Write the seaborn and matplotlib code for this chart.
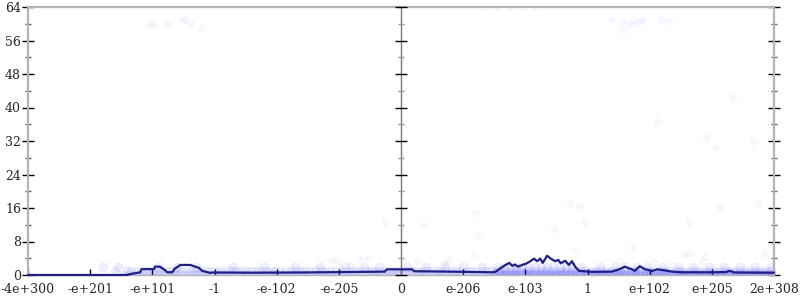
import numpy as np
import pandas as pd
import seaborn as sns
import matplotlib.pyplot as plt
from matplotlib.ticker import MultipleLocator

# ---------------- data ----------------
tick_pos = [-6, -5, -4, -3, -2, -1, 0, 1, 2, 3, 4, 5, 6]
tick_labels = ["-4e+300", "-e+201", "-e+101", "-1", "-e-102", "-e-205", "0",
               "e-206", "e-103", "1", "e+102", "e+205", "2e+308"]

# dense band of errors (x positions at each error level)
band_y0_x = [-4.45, -4.38, -4.3, -4.21, -4.13, -4.06, -3.97, -3.9, -3.82, -3.73, -3.66, -3.58,
             -3.5, -3.41, -3.33, -3.26, -3.17, -3.1, -3.02, -2.93, -2.86, -2.78, -2.7, -2.61,
             -2.53, -2.46, -2.37, -2.3, -2.22, -2.13, -2.06, -1.98, -1.9, -1.81, -1.73, -1.66,
             -1.57, -1.5, -1.42, -1.33, -1.26, -1.18, -1.1, -1.01, -0.93, -0.86, -0.77, -0.7,
             -0.62, -0.53, -0.46, -0.38, -0.3, -0.21, -0.13, -0.06,
             0.05, 0.13, 0.21, 0.3, 0.37, 0.45, 0.54, 0.61, 0.69, 0.78, 0.85, 0.93, 1.02, 1.09,
             1.17, 1.26, 1.33, 1.41, 1.5, 1.57, 1.65, 1.74, 1.81, 1.89, 1.98, 2.05, 2.13, 2.22,
             2.29, 2.37, 2.46, 2.53, 2.61, 2.7, 2.77, 2.85, 2.94, 3.01, 3.09, 3.18, 3.25, 3.33,
             3.42, 3.49, 3.57, 3.66, 3.73, 3.81, 3.9, 3.97, 4.05, 4.14, 4.21, 4.29, 4.38, 4.45,
             4.53, 4.62, 4.69, 4.77, 4.86, 4.93, 5.01, 5.1, 5.17, 5.25, 5.34, 5.41, 5.49, 5.58,
             5.65, 5.73, 5.82, 5.89, 5.97]
band_y1_x = [-4.6, -4.41, -4.34, -4.25, -4.17, -4.09, -4.01, -3.93, -3.86, -3.77, -3.69, -3.62,
             -3.54, -3.45, -3.37, -3.29, -3.21, -3.14, -3.06, -2.97, -2.89, -2.82, -2.74, -2.65,
             -2.57, -2.49, -2.41, -2.34, -2.26, -2.17, -2.09, -2.02, -1.94, -1.85, -1.77, -1.69,
             -1.61, -1.54, -1.46, -1.37, -1.29, -1.22, -1.14, -1.05, -0.97, -0.89, -0.81, -0.74,
             -0.66, -0.57, -0.49, -0.42, -0.34, -0.25, -0.17, -0.1, -0.02,
             0.09, 0.17, 0.25, 0.34, 0.41, 0.49, 0.58, 0.65, 0.73, 0.82, 0.89, 0.97, 1.06, 1.13,
             1.21, 1.3, 1.37, 1.45, 1.54, 1.61, 1.69, 1.78, 1.85, 1.93, 2.02, 2.09, 2.17, 2.26,
             2.33, 2.41, 2.5, 2.57, 2.65, 2.74, 2.81, 2.89, 2.98, 3.05, 3.13, 3.22, 3.29, 3.37,
             3.46, 3.53, 3.61, 3.7, 3.77, 3.85, 3.94, 4.01, 4.09, 4.18, 4.25, 4.33, 4.42, 4.49,
             4.57, 4.66, 4.73, 4.81, 4.9, 4.97, 5.05, 5.14, 5.21, 5.29, 5.38, 5.45, 5.53, 5.62,
             5.69, 5.77, 5.86, 5.93]
band_y2_x = [-4.8, -4.55, -3.9, -3.6, -3.3, -2.7, -2.2, -1.7, -1.3, -0.9, -0.6, -0.35, 0.1, 0.4,
             0.7, 1.0, 1.3, 1.55, 1.65, 1.75, 1.85, 1.95, 2.05, 2.15, 2.25, 2.35, 2.45, 2.55,
             2.65, 2.75, 2.9, 3.2, 3.45, 3.6, 3.8, 3.95, 4.2, 4.45, 4.7, 4.95, 5.2, 5.45, 5.7, 5.95]
band_dense_x = [1.52, 1.6, 1.68, 1.76, 1.84, 1.92, 2.0, 2.08, 2.16, 2.24, 2.32, 2.4, 2.48, 2.56,
                2.64, 2.72, 2.8, 2.88, 2.96, 3.04, 3.12, 3.2, 3.28, 3.36, 3.44, 3.52, 3.6, 3.68,
                3.76, 3.84, 3.92, 4.0, 4.08, 4.16, 4.24, 4.32, 4.4, 4.48, 4.56, 4.64, 4.72, 4.8,
                4.88, 4.96, 5.04, 5.12, 5.2, 5.28, 5.36, 5.44, 5.52, 5.6, 5.68, 5.76, 5.84, 5.92, 6.0]

# sparse outliers
outlier_x = [-4.05, -3.97, -3.76, -3.52, -3.47, -3.38, -3.22,
             3.38, 3.57, 3.65, 3.73, 3.75, 3.84, 3.88, 4.18, 4.31, 3.57,
             1.35, 1.55, 1.75, 1.95, 2.15,
             5.34, 4.12, 4.91, 5.05, 5.66,
             1.21, 0.35, 1.25, 1.17, 0.77, 0.26, 0.69, 2.46, 2.72, 2.86, 2.96, 2.8,
             5.13, 5.76, 4.63, 3.73, 5.85, 4.63, 4.55, 4.07, 3.52, 4.84, 4.89, 4.31,
             -0.26, -1.11, -1.01, -0.68, -0.53, -0.82]
outlier_y = [60, 60, 60, 61, 61, 60, 59,
             61, 60.6, 60, 60, 61, 60.4, 61, 61, 60.6, 58.5,
             64, 64, 64, 64, 64,
             42.5, 36.5, 33, 30.5, 32,
             14.8, 12, 9.5, 4.8, 3.6, 3.4, 2.9, 11, 17, 16.5, 12.7, 6,
             16.2, 17, 12.7, 6.7, 5.3, 5.3, 4.8, 3.1, 3.4, 3.1, 4.3, 2.9,
             12.7, 3.6, 3.3, 3.8, 4.1, 2.4]

# running average line
line_x = [-6, -4.41, -4.33, -4.2, -4.17, -3.97, -3.96, -3.88, -3.8, -3.76, -3.68, -3.64, -3.55,
          -3.39, -3.25, -3.2, -3.07, -3.02, -2.4, -1.59, -0.95, -0.26, -0.23, 0.18, 0.21, 0.82,
          1.46, 1.51, 1.58, 1.67, 1.74, 1.79, 1.83, 1.88, 1.95, 2.01, 2.07, 2.14, 2.19, 2.24,
          2.28, 2.35, 2.41, 2.48, 2.53, 2.57, 2.64, 2.7, 2.75, 2.8, 2.86, 3.07, 3.39, 3.52, 3.6,
          3.72, 3.76, 3.84, 3.92, 4.04, 4.12, 4.2, 4.36, 4.52, 5.0, 5.23, 5.29, 5.36, 6.0]
line_y = [0, 0, 0.3, 0.6, 1.4, 1.4, 2.0, 2.0, 1.2, 0.65, 0.65, 1.5, 2.4,
          2.4, 1.7, 1.0, 0.5, 0.6, 0.55, 0.6, 0.7, 0.8, 1.35, 1.35, 0.9, 0.8,
          0.65, 0.7, 1.4, 2.3, 2.9, 2.2, 2.5, 2.0, 2.4, 2.7, 3.2, 3.9, 3.3, 3.9,
          2.9, 4.6, 3.9, 3.3, 3.6, 2.8, 3.4, 2.4, 3.3, 2.0, 1.0, 0.75, 0.8, 1.4, 2.0,
          1.3, 1.0, 2.1, 1.4, 0.95, 1.35, 1.2, 0.8, 0.65, 0.65, 0.7, 1.0, 0.6, 0.55]

# ---------------- build tables ----------------
band = pd.DataFrame({
    "x": band_y0_x + band_y1_x + band_y2_x + band_dense_x + band_dense_x,
    "y": [0] * len(band_y0_x) + [1] * len(band_y1_x) + [2] * len(band_y2_x)
         + [0.5] * len(band_dense_x) + [0] * len(band_dense_x),
})
outliers = pd.DataFrame({"x": outlier_x, "y": outlier_y})
line_df = pd.DataFrame({"x": line_x, "y": line_y})

# ---------------- plot ----------------
sns.set_style("white")
plt.rcParams["font.family"] = ["DejaVu Serif"]

fig = plt.figure(figsize=(8, 3), dpi=100)
ax = fig.add_axes([28 / 800, 25 / 300, 746 / 800, 268 / 300])

sns.scatterplot(data=band, x="x", y="y", ax=ax, color="#2a2aff", alpha=0.075, s=40,
                edgecolor="#2a2aff", linewidth=0.5, legend=False, zorder=2)
sns.scatterplot(data=outliers, x="x", y="y", ax=ax, color="#3a3aff", alpha=0.035, s=22,
                edgecolor="#3a3aff", linewidth=0.6, legend=False, zorder=2)
sns.lineplot(data=line_df, x="x", y="y", ax=ax, color="#1f1f88", lw=1.6,
             estimator=None, sort=False, zorder=4, clip_on=False)

ax.set_xlim(-6, 6)
ax.set_ylim(0, 64)
ax.set_xlabel("")
ax.set_ylabel("")
ax.set_xticks(tick_pos)
ax.set_xticklabels(tick_labels)
ax.yaxis.set_major_locator(MultipleLocator(8))
ax.yaxis.set_minor_locator(MultipleLocator(4))

ax.tick_params(axis="y", which="major", direction="inout", length=8, width=1,
               color="black", left=True, right=True, labelsize=9, pad=1)
ax.tick_params(axis="y", which="minor", direction="inout", length=4.5, width=1,
               color="#666666", left=True, right=True)
ax.tick_params(axis="x", which="major", direction="in", length=4.5, width=1,
               color="black", bottom=True, top=False, labelsize=9, pad=6)

for side in ["left", "right", "top"]:
    ax.spines[side].set_visible(True)
    ax.spines[side].set_color("#b4b4b4")
    ax.spines[side].set_linewidth(1.6)
ax.spines["bottom"].set_color("#b4b4b4")
ax.spines["bottom"].set_linewidth(1.0)

# centre axis at zero with its own ticks
ax.axvline(0, color="#777777", lw=1, zorder=3)
major_vals = list(range(0, 65, 8))
minor_vals = list(range(4, 64, 8))
ax.plot([0] * len(major_vals), major_vals, ls="none", marker="_", ms=8, mew=1,
        color="black", zorder=5, clip_on=False)
ax.plot([0] * len(minor_vals), minor_vals, ls="none", marker="_", ms=4.5, mew=1,
        color="#999999", zorder=5, clip_on=False)

fig.savefig("out.png", dpi=100)
